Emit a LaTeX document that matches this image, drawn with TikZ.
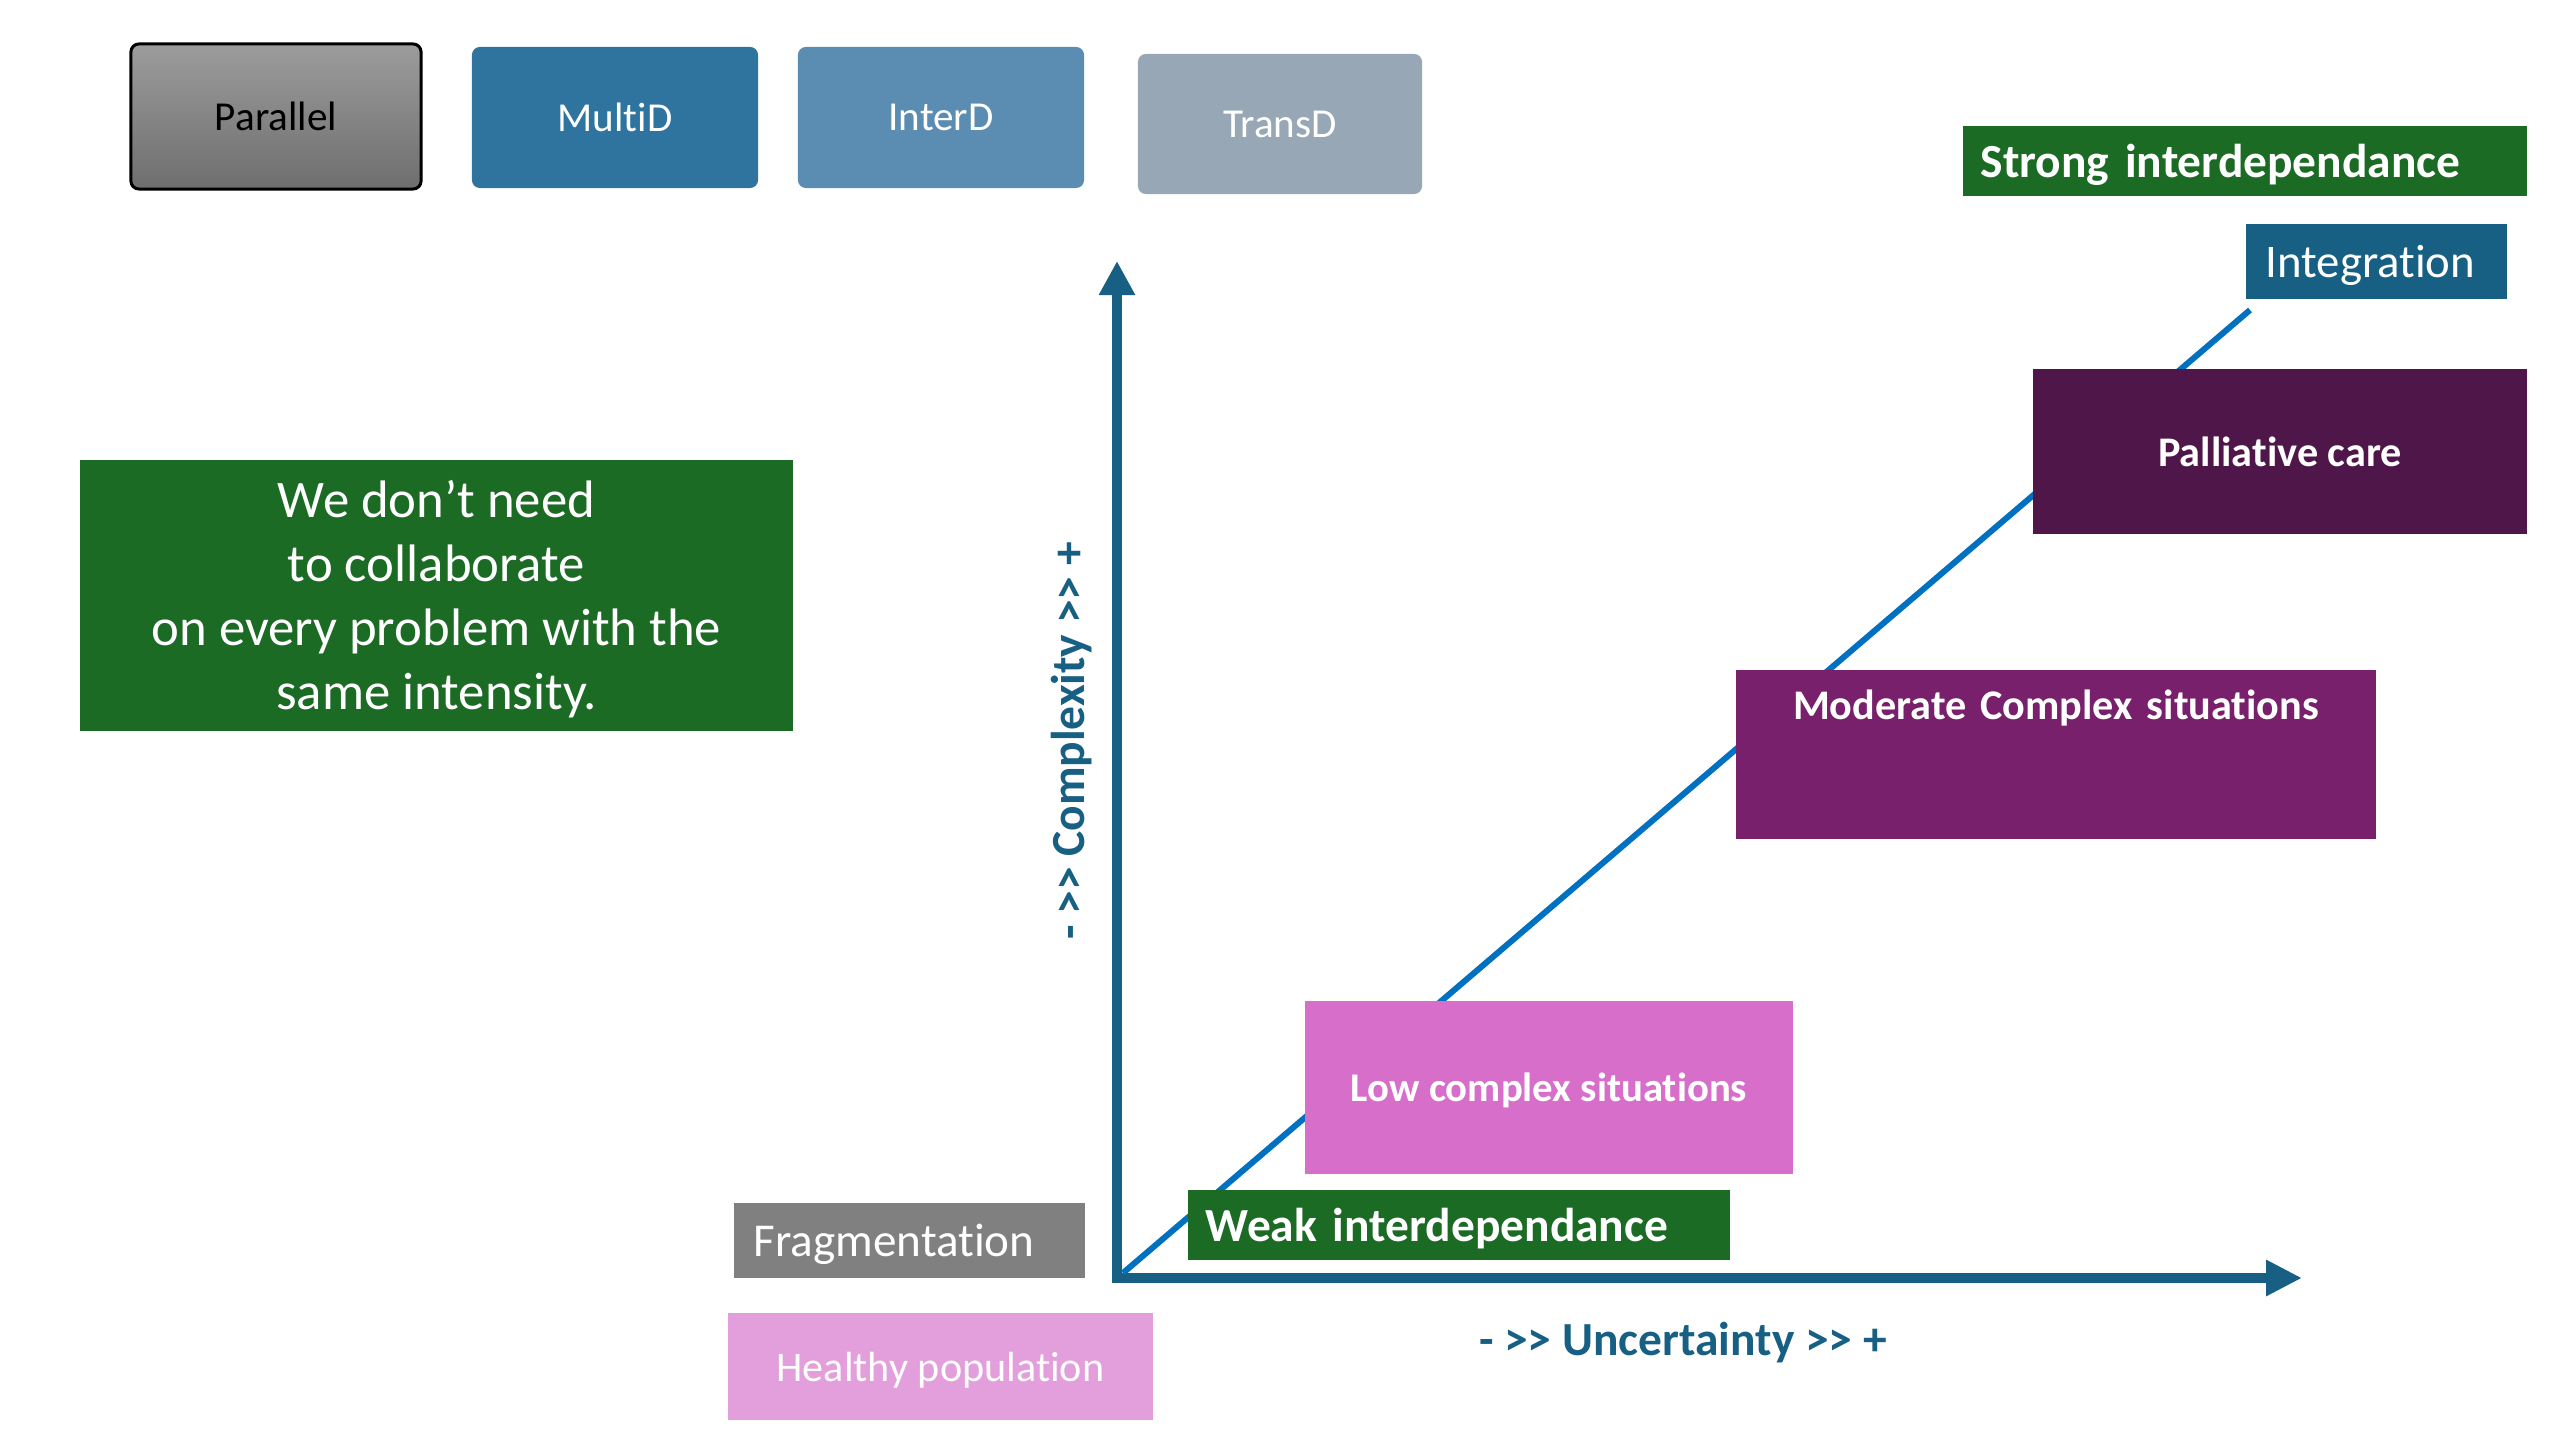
\documentclass[tikz,border=0pt]{standalone}
\usepackage{fontspec}
\setmainfont{Carlito}[Ligatures={NoCommon}]
\usetikzlibrary{arrows.meta}
\definecolor{axisblue}{RGB}{23,95,131}
\definecolor{diagblue}{RGB}{0,112,192}
\definecolor{partop}{RGB}{156,156,156}
\definecolor{parbot}{RGB}{110,110,110}
\definecolor{multid}{RGB}{46,116,158}
\definecolor{interd}{RGB}{91,141,178}
\definecolor{transd}{RGB}{151,167,181}
\definecolor{dgreen}{RGB}{28,107,37}
\definecolor{integ}{RGB}{24,96,131}
\definecolor{palli}{RGB}{79,23,73}
\definecolor{moder}{RGB}{120,32,108}
\definecolor{lowc}{RGB}{214,110,202}
\definecolor{fragm}{RGB}{128,128,128}
\definecolor{healthy}{RGB}{227,158,220}
\newcommand{\fs}[1]{\fontsize{#1}{1.2\dimexpr#1pt\relax}\selectfont}
\begin{document}
\begin{tikzpicture}[x=0.01cm,y=-0.01cm,
  box/.style={inner sep=0pt, text=white},
  topbox/.style={box, rounded corners=0.08cm, font=\fs{11.7}},
  leftbox/.style={box, align=left, anchor=west, text depth=0pt},
  axisline/.style={draw=axisblue, line width=0.1cm, line join=miter},
  axislabel/.style={text=axisblue, font=\bfseries\fs{13.5}, inner sep=0pt}]
\useasboundingbox (0,0) rectangle (2560,1440);

% axes
\coordinate (origin) at (1117,1278);
\coordinate (ytip) at (1117,261);
\coordinate (xtip) at (2302,1278);
\draw[axisline, {Triangle[length=0.34cm,width=0.34cm]}-{Triangle[length=0.36cm,width=0.34cm]}] (ytip) -- (origin) -- (xtip);

% diagonal
\coordinate (dstart) at (1123,1273);
\coordinate (dend) at (2250,310);
\draw[diagblue, line width=0.06cm] (dstart) -- (dend);

% top boxes
\node[topbox, draw=black, line width=0.03cm, top color=partop, bottom color=parbot, text=black,
      minimum width=2.90cm, minimum height=1.45cm] (parallel) at (276,116.5) {Parallel};
\node[topbox, fill=multid, minimum width=2.86cm, minimum height=1.41cm] (multid) at (615,117.5) {MultiD};
\node[topbox, fill=interd, minimum width=2.86cm, minimum height=1.41cm] (interd) at (941,117.5) {InterD};
\node[topbox, fill=transd, minimum width=2.84cm, minimum height=1.40cm] (transd) at (1280,124) {TransD};

% message
\node[box, fill=dgreen, align=center, minimum width=7.13cm, minimum height=2.71cm,
      font=\fontsize{15}{18.2}\selectfont] (msg) at (436.5,595.5)
  {\rule{0pt}{0.44cm}We don’t need\\to collaborate\\on every problem with the\\same intensity.};

% right-hand boxes
\node[leftbox, fill=dgreen, minimum height=0.70cm, text width=5.28cm, inner xsep=0.18cm,
      font=\bfseries\fs{13.5}] (strong) at (1962,161) {Strong interdependance};
\node[leftbox, fill=integ, minimum height=0.75cm, text width=2.21cm, inner xsep=0.20cm,
      font=\fs{13.3}] (integ) at (2245,261.5) {Integration};
\node[box, fill=palli, minimum width=4.94cm, minimum height=1.65cm,
      font=\bfseries\fs{12}] (palli) at (2280,451.5) {Palliative care};
\node[box, fill=moder, anchor=north, text width=6.40cm, align=center,
      text height=0.50cm, text depth=1.19cm, font=\bfseries\fs{12}] (moder) at (2056,669) {Moderate Complex situations};
\node[box, fill=lowc, minimum width=4.88cm, minimum height=1.73cm, text depth=0pt,
      font=\bfseries\fs{11.6}] (lowc) at (1549,1087.5) {Low complex situations};
\node[leftbox, fill=dgreen, minimum height=0.70cm, text width=5.06cm, inner xsep=0.18cm,
      font=\bfseries\fs{13.5}] (weak) at (1187,1225) {Weak interdependance};
\node[leftbox, fill=fragm, minimum height=0.75cm, text width=3.11cm, inner xsep=0.20cm,
      font=\fs{13.4}] (fragm) at (733,1240.5) {Fragmentation};
\node[box, fill=healthy, minimum width=4.25cm, minimum height=1.07cm, text depth=0pt,
      font=\fs{12}] (healthy) at (940.5,1366.5) {Healthy population};

% axis labels
\node[axislabel] (xlabel) at (1683,1343) {- {>}{>} Uncertainty {>}{>} +};
\node[axislabel, rotate=90] (ylabel) at (1072,741) {- {>}{>} Complexity {>}{>} +};
\end{tikzpicture}
\end{document}
